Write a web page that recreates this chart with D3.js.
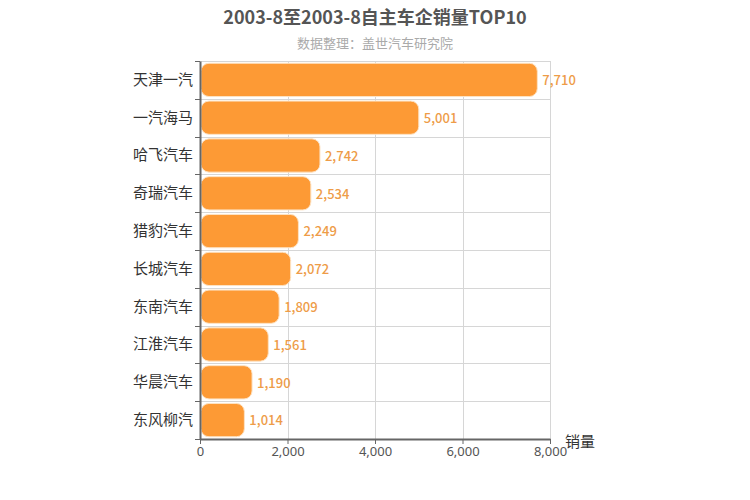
<!DOCTYPE html>
<html>
<head>
<meta charset="utf-8">
<script src="https://cdn.jsdelivr.net/npm/d3@7"></script>
<style>
body { margin:0; background:#fff; }
text { font-family: "Noto Sans CJK SC", "Noto Sans", sans-serif; }
</style>
</head>
<body>
<svg id="chart" width="750" height="500"></svg>
<script>
var titleText = "2003-8至2003-8自主车企销量TOP10";
var subTitle = "数据整理：盖世汽车研究院";
var brands = ["天津一汽","一汽海马","哈飞汽车","奇瑞汽车","猎豹汽车","长城汽车","东南汽车","江淮汽车","华晨汽车","东风柳汽"];
var sales = [7710,5001,2742,2534,2249,2072,1809,1561,1190,1014];
var xTicks = [0,2000,4000,6000,8000];

var svg = d3.select("#chart");
var plotLeft = 200, plotRight = 550, plotTop = 61, plotBottom = 439;

var x = d3.scaleLinear().domain([0,8000]).range([plotLeft,plotRight]);
var y = d3.scaleBand().domain(brands).range([plotTop,plotBottom]).paddingInner(0.12).paddingOuter(0.06);
var yb = d3.scaleBand().domain(brands).range([plotTop,plotBottom]);

svg.append("text").attr("x",375).attr("y",24).attr("text-anchor","middle")
	.attr("font-size",18).attr("font-weight","bold").attr("fill","#555").text(titleText);
svg.append("text").attr("x",375).attr("y",48).attr("text-anchor","middle")
	.attr("font-size",13).attr("fill","#aaa").text(subTitle);

// grid
var grid = svg.append("g").attr("stroke","#d6d6d6").attr("stroke-width",1);
grid.selectAll("line.v").data(xTicks).enter().append("line")
	.attr("x1",function(d){return Math.round(x(d))+0.5;}).attr("x2",function(d){return Math.round(x(d))+0.5;})
	.attr("y1",plotTop).attr("y2",plotBottom);
grid.selectAll("line.h").data(brands).enter().append("line")
	.attr("x1",plotLeft).attr("x2",plotRight)
	.attr("y1",function(d){return Math.round(yb(d))+0.5;}).attr("y2",function(d){return Math.round(yb(d))+0.5;});

// bars
svg.selectAll("rect.bar").data(sales).enter().append("rect")
	.attr("x",x(0)+1)
	.attr("y",function(d,i){return y(brands[i]);})
	.attr("width",function(d){return x(d)-x(0)-1;})
	.attr("height",y.bandwidth())
	.attr("rx",8).attr("ry",8)
	.attr("fill","#fd9a35").attr("stroke","#fde3c4").attr("stroke-width",1);

svg.selectAll("text.val").data(sales).enter().append("text")
	.attr("x",function(d){return x(d)+5;})
	.attr("y",function(d,i){return y(brands[i])+y.bandwidth()/2;})
	.attr("dy","0.4em").attr("font-size",13).attr("font-weight",500).attr("fill","#ee9c48")
	.text(function(d){return d3.format(",")(d);});

// axes
var yAxis = svg.append("g").attr("transform","translate("+plotLeft+",0)")
	.call(d3.axisLeft(yb).tickSize(0).tickPadding(7));
yAxis.select(".domain").attr("stroke","#666").attr("stroke-width",2);
yAxis.selectAll("text").attr("font-size",15).attr("fill","#333")
	.style("font-family","'Noto Sans CJK SC', sans-serif");
var yTicks = brands.slice(1).map(function(d){return yb(d);}).concat([plotTop,plotBottom]);
svg.append("g").selectAll("line").data(yTicks).enter().append("line")
	.attr("x1",plotLeft-5).attr("x2",plotLeft)
	.attr("y1",function(d){return Math.round(d)+0.5;}).attr("y2",function(d){return Math.round(d)+0.5;})
	.attr("stroke","#666");

var xAxis = svg.append("g").attr("transform","translate(0,"+plotBottom+")")
	.call(d3.axisBottom(x).tickValues(xTicks).tickFormat(d3.format(",")).tickSize(5).tickSizeOuter(0).tickPadding(3));
xAxis.select(".domain").attr("stroke","#666").attr("stroke-width",2);
xAxis.selectAll(".tick line").attr("stroke","#666");
xAxis.selectAll("text").attr("font-size",13).attr("fill","#555")
	.style("font-family","'Noto Sans', sans-serif");

svg.append("text").attr("x",565).attr("y",447).attr("font-size",15).attr("fill","#333").text("销量");
</script>
</body>
</html>
